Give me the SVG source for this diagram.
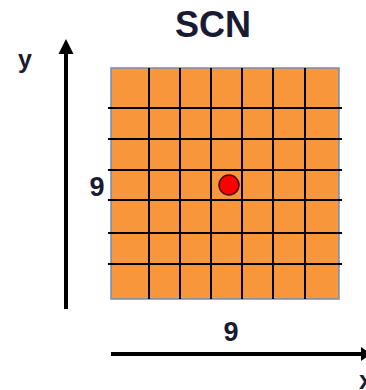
<svg xmlns="http://www.w3.org/2000/svg" width="366" height="390" viewBox="0 0 366 390">
<style>
.lbl{font-family:"Liberation Sans",Arial,sans-serif;font-weight:bold;fill:#1a1a33;text-anchor:middle}
.grid{stroke:#000;stroke-width:2;fill:none}
.axis{stroke:#000;stroke-width:4;fill:none}
</style>
<rect width="366" height="390" fill="#fff"/>
<text class="lbl" x="213" y="37" font-size="36">SCN</text>
<g id="grid">
<rect x="111" y="68" width="228" height="231" fill="#F7963A" stroke="#6b8fbf" stroke-width="1.5"/>
<g class="grid">
<line x1="149" y1="68" x2="149" y2="299"/>
<line x1="180" y1="68" x2="180" y2="299"/>
<line x1="211" y1="68" x2="211" y2="299"/>
<line x1="242" y1="68" x2="242" y2="299"/>
<line x1="273" y1="68" x2="273" y2="299"/>
<line x1="305" y1="68" x2="305" y2="299"/>
<line x1="108" y1="108" x2="342" y2="108"/>
<line x1="108" y1="139" x2="342" y2="139"/>
<line x1="108" y1="170" x2="342" y2="170"/>
<line x1="108" y1="200" x2="342" y2="200"/>
<line x1="108" y1="233" x2="342" y2="233"/>
<line x1="108" y1="264" x2="342" y2="264"/>
</g>
</g>
<g id="dot"><circle cx="229" cy="185" r="10" fill="#FF0000" stroke="#4a0a0a" stroke-width="1.5"/></g>
<g id="axes">
<line class="axis" x1="66" y1="309" x2="66" y2="52"/>
<polygon points="66,39 58.5,54 73.5,54" fill="#000"/>
<line class="axis" x1="111" y1="354" x2="362" y2="354"/>
<polygon points="371,354 361,347 361,361" fill="#000"/>
</g>
<text class="lbl" x="25" y="68" font-size="25">y</text>
<text class="lbl" x="97" y="196" font-size="27">9</text>
<text class="lbl" x="231" y="341" font-size="27">9</text>
<text class="lbl" x="366" y="389" font-size="25">x</text>
</svg>
